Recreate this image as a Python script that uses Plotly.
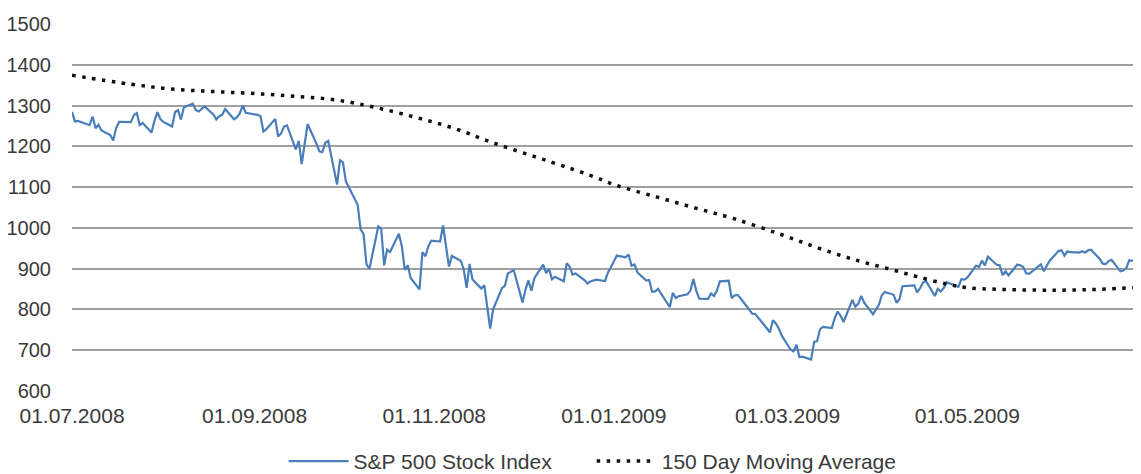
import plotly.graph_objects as go
import pandas as pd

# S&P 500 daily closes, 01.07.2008 - 29.06.2009 (one list per month)
jul_08 = [1284.91, 1261.52, 1262.90, 1252.31, 1273.70, 1244.69, 1253.39, 1239.49, 1228.30, 1214.91, 1245.36,
          1260.32, 1260.68, 1260.00, 1277.00, 1282.19, 1252.54, 1257.76, 1234.37, 1263.20, 1284.26, 1267.38]
aug_08 = [1260.31, 1249.01, 1284.88, 1289.19, 1266.07, 1296.32, 1305.32, 1289.59, 1285.83, 1292.93, 1298.20,
          1278.60, 1266.69, 1274.54, 1277.72, 1292.20, 1266.84, 1271.51, 1281.66, 1300.68, 1282.83]
sep_08 = [1277.58, 1274.98, 1236.83, 1242.31, 1267.79, 1224.51, 1232.04, 1249.05, 1251.70, 1192.70, 1213.60,
          1156.39, 1206.51, 1255.08, 1207.09, 1188.22, 1185.87, 1209.18, 1213.27, 1106.39, 1166.36]
oct_08 = [1161.06, 1114.28, 1099.23, 1056.89, 996.23, 984.94, 909.92, 899.22, 1003.35, 998.01, 907.84,
          946.43, 940.55, 985.40, 955.05, 896.78, 908.11, 876.77, 848.92, 940.51, 930.09, 954.09, 968.75]
nov_08 = [966.30, 1005.75, 952.77, 904.88, 930.99, 919.21, 898.95, 852.30, 911.29, 873.29,
          850.75, 859.12, 806.58, 752.44, 800.03, 851.81, 857.39, 887.68, 896.24]
dec_08 = [816.21, 848.81, 870.74, 845.22, 876.07, 909.70, 888.67, 899.24, 873.59, 879.73, 868.57,
          913.18, 904.42, 885.28, 887.88, 871.63, 863.16, 868.15, 872.80, 869.42, 890.64, 903.25]
jan_09 = [931.80, 927.45, 934.70, 906.65, 909.73, 890.35, 870.26, 871.79, 842.62, 843.74,
          850.12, 805.22, 840.24, 827.50, 831.95, 836.57, 845.71, 874.09, 845.14, 825.88]
feb_09 = [825.44, 838.51, 832.23, 845.85, 868.60, 869.89, 827.16, 833.74, 835.19, 826.84,
          789.17, 788.42, 778.94, 770.05, 743.33, 773.14, 764.90, 752.83, 735.09]
mar_09 = [700.82, 696.33, 712.87, 682.55, 683.38, 676.53, 719.60, 721.36, 750.74, 756.55, 753.89,
          778.12, 794.35, 784.04, 768.54, 822.92, 806.12, 813.88, 832.86, 815.94, 787.53, 797.87]
apr_09 = [811.08, 834.38, 842.50, 835.48, 815.55, 825.16, 856.56, 858.73, 841.50, 852.06, 865.30,
          869.60, 832.39, 850.08, 843.55, 851.92, 866.23, 857.51, 855.16, 873.64, 872.81]
may_09 = [877.52, 907.24, 903.80, 919.53, 907.39, 929.23, 909.24, 908.35, 883.92, 893.07,
          882.88, 909.71, 908.13, 903.47, 888.33, 887.00, 910.33, 893.06, 906.83, 919.14]
jun_09 = [942.87, 944.74, 931.76, 942.46, 940.09, 939.14, 942.43, 939.15, 944.89, 946.21, 923.72,
          911.97, 910.71, 918.37, 921.23, 893.04, 895.10, 900.94, 920.26, 918.90, 927.23]

market_holidays = ['2008-07-04', '2008-09-01', '2008-11-27', '2008-12-25', '2009-01-01',
                   '2009-01-19', '2009-02-16', '2009-04-10', '2009-05-25']

# 150 day moving average
ma_dates = ['2008-07-01', '2008-07-21', '2008-08-04', '2008-08-18', '2008-09-01', '2008-09-15',
            '2008-09-29', '2008-10-12', '2008-10-26', '2008-11-08', '2008-11-21', '2008-12-11',
            '2008-12-24', '2009-01-02', '2009-01-16', '2009-01-29', '2009-02-11', '2009-02-27',
            '2009-03-12', '2009-03-25', '2009-04-05', '2009-04-14', '2009-04-24', '2009-05-01',
            '2009-05-11', '2009-05-25', '2009-06-04', '2009-06-15', '2009-06-29']
ma_values = [1375, 1353, 1341, 1335, 1330, 1323, 1314, 1296, 1271, 1244, 1209, 1161,
             1129, 1104, 1075, 1048, 1022, 983, 949, 919, 898, 880, 862, 853,
             849, 847, 847, 849, 854]

sp_values = jul_08 + aug_08 + sep_08 + oct_08 + nov_08 + dec_08 + jan_09 + feb_09 + mar_09 + apr_09 + may_09 + jun_09
sp_dates = pd.bdate_range('2008-07-01', '2009-06-29', freq='C', holidays=market_holidays)

font = dict(family='Liberation Sans, Arial, sans-serif', size=21, color='#3a3a3a')
yfont = dict(family='Liberation Sans, Arial, sans-serif', size=20, color='#3a3a3a')
pad = '\u00a0' * 6   # wider gap between legend entries, like the original

fig = go.Figure()

fig.add_trace(go.Scatter(
    x=sp_dates,
    y=sp_values,
    mode='lines',
    name='S&P 500 Stock Index' + pad,
    line=dict(color='#4a7ebb', width=2.2),
))

fig.add_trace(go.Scatter(
    x=ma_dates,
    y=ma_values,
    mode='lines',
    name='150 Day Moving Average',
    line=dict(color='#111111', width=3.5, dash='3.5px,6.5px', shape='spline'),
))

# page body adds an 8px offset, so the figure is 8px smaller than the window
fig.update_layout(
    width=1133,
    height=466,
    margin=dict(l=64, r=0, t=16, b=83, autoexpand=False),
    plot_bgcolor='white',
    paper_bgcolor='white',
    font=font,
    showlegend=True,
    legend=dict(orientation='h', x=0.487, xanchor='center', y=-0.136, yanchor='top',
                font=font, itemwidth=60),
    xaxis=dict(
        type='date',
        range=['2008-07-01', '2009-06-29'],
        tick0='2008-07-01',
        dtick='M2',
        tickformat='%d.%m.%Y',
        showgrid=False,
        zeroline=False,
        showline=False,
        ticks='outside',
        ticklen=6,
        tickcolor='rgba(0,0,0,0)',
        tickfont=font,
        automargin=False,
    ),
    yaxis=dict(
        range=[599, 1501],
        tickvals=[600, 700, 800, 900, 1000, 1100, 1200, 1300, 1400, 1500],
        showgrid=True,
        gridcolor='#a0a0a0',
        gridwidth=1.7,
        zeroline=False,
        showline=False,
        ticks='outside',
        ticklen=16,
        tickcolor='rgba(0,0,0,0)',
        tickfont=yfont,
        automargin=False,
    ),
)

fig.write_html("out.html")
